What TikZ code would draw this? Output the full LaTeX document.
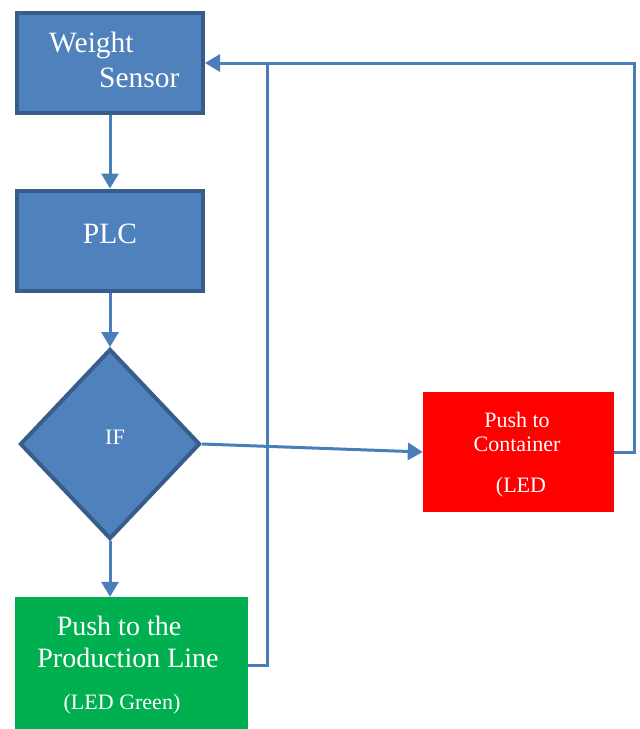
\documentclass[tikz,border=0pt]{standalone}
\usepackage{fontspec}
\setmainfont{Liberation Serif}
\newfontfamily\timesface{Liberation Serif}
\usetikzlibrary{shapes.geometric,arrows.meta}
\definecolor{boxblue}{HTML}{4F81BD}
\definecolor{boxedge}{HTML}{385D8A}
\definecolor{linkblue}{HTML}{4A7EBB}
\definecolor{ledgreen}{HTML}{00B050}
\definecolor{ledred}{HTML}{FF0000}
\tikzset{
  bluebox/.style={draw=boxedge, line width=4pt, fill=boxblue, rectangle, inner sep=0pt, minimum width=186pt, minimum height=100pt},
  bluediamond/.style={draw=boxedge, line width=4pt, fill=boxblue, diamond, inner sep=0pt, minimum width=180pt, minimum height=190pt},
  flatbox/.style={rectangle, inner sep=0pt, draw=none},
  txt/.style={text=white, inner sep=0pt, anchor=base},
  huge/.style={font=\timesface\fontsize{29.5}{33}\selectfont},
  big/.style={font=\timesface\fontsize{28}{32}\selectfont},
  mid/.style={font=\timesface\fontsize{22}{26}\selectfont},
  small/.style={font=\timesface\fontsize{22}{25}\selectfont},
  link/.style={draw=linkblue, line width=3pt},
  linkarrow/.style={link, -{Triangle[length=15pt, width=17pt]}},
}
\begin{document}
\begin{tikzpicture}[x=1pt, y=-1pt]
\useasboundingbox (0,0) rectangle (640,729);
% boxes
\node[bluebox] (ws) at (110,63) {};
\node[bluebox] (plc) at (110,240.5) {};
\node[bluediamond] (if) at (110,444) {};
\node[flatbox, fill=ledgreen, minimum width=233pt, minimum height=132pt] (green) at (131.5,663) {};
\node[flatbox, fill=ledred, minimum width=191pt, minimum height=120pt] (red) at (518.5,452) {};
% texts
\node[txt, huge, anchor=base west] (t1) at (49,52) {Weight};
\node[txt, huge, anchor=base west] (t2) at (99,87) {Sensor};
\node[txt, huge] (t3) at (110,243) {PLC};
\node[txt, small] (t4) at (115,444) {IF};
\node[txt, small] (t5) at (517,427) {Push to};
\node[txt, small] (t6) at (517,451) {Container};
\node[txt, small] (t7) at (521,492) {(LED};
\node[txt, big] (t8) at (119,635) {Push to the};
\node[txt, big] (t9) at (128,667) {Production Line};
\node[txt, mid] (t10) at (122,709) {(LED Green)};
% connectors
\coordinate (j) at (267,63);
\coordinate (g1) at (267,665);
\coordinate (r1) at (634,452);
\coordinate (r2) at (634,63);
\draw[linkarrow] (ws.south) -- (plc.north);
\draw[linkarrow] (plc.south) -- (if.north);
\draw[linkarrow] (if.south) -- (if.south |- green.north);
\draw[linkarrow] (if.east) -- (red.west);
\draw[link] (red.east) -- (r1) -- (r2) -- (j);
\draw[linkarrow] (green.east |- g1) -- (g1) -- (j) -- (ws.east);
\end{tikzpicture}
\end{document}
